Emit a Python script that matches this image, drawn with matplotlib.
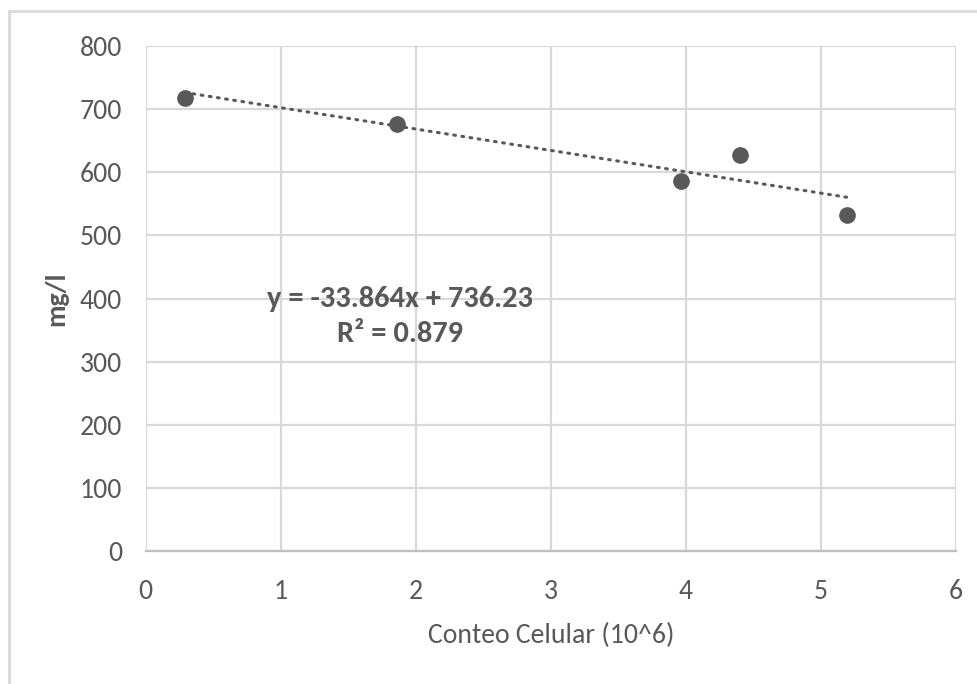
import numpy as np
import matplotlib.pyplot as plt
from matplotlib.patches import Rectangle

# Datos
conteo = [0.29, 1.86, 3.96, 4.40, 5.19]
mg_l = [718, 677, 586, 628, 533]

# Linea de tendencia mostrada en el grafico
pendiente = -33.864
ordenada = 736.23
r2 = 0.879

x_ticks = [0, 1, 2, 3, 4, 5, 6]
y_ticks = [0, 100, 200, 300, 400, 500, 600, 700, 800]

GRIS = "#595959"
REJILLA = "#d9d9d9"

plt.rcParams["font.family"] = ["Carlito", "DejaVu Sans"]

fig = plt.figure(figsize=(9.78, 6.84), dpi=100)
ax = fig.add_axes([0.1489, 0.1944, 0.8287, 0.7383])

# Borde exterior del area del grafico (recortado a la derecha y abajo)
fig.patches.append(Rectangle((9 / 978, -0.1), 1.2, 1 - 11 / 684 + 0.1,
                             transform=fig.transFigure, fill=False,
                             edgecolor=REJILLA, linewidth=2))

xt = np.array([min(conteo), max(conteo)])
ax.plot(xt, pendiente * xt + ordenada, linestyle=(0, (0.6, 2.1)),
        color=GRIS, linewidth=2.2, dash_capstyle="round", zorder=3)
ax.plot(conteo, mg_l, "o", color=GRIS, markersize=11, zorder=4)

ax.set_xlim(0, 6)
ax.set_ylim(0, 800)
ax.set_xticks(x_ticks)
ax.set_yticks(y_ticks)
ax.grid(True, color=REJILLA, linewidth=1.6)
ax.set_axisbelow(True)
for lado in ["top", "right", "left"]:
    ax.spines[lado].set_visible(False)
ax.spines["bottom"].set_color("#bfbfbf")
ax.spines["bottom"].set_linewidth(1.6)
ax.tick_params(length=0, colors=GRIS, labelsize=20)
ax.tick_params(axis="x", pad=20)
ax.tick_params(axis="y", pad=17)

ax.set_xlabel("Conteo Celular (10^6)", fontsize=20, color=GRIS, labelpad=14)
ax.set_ylabel("mg/l", fontsize=20, color=GRIS, fontweight="bold", labelpad=8)

ax.text(1.88, 399, f"y = {pendiente}x + {ordenada}", fontsize=22, color=GRIS,
        fontweight="bold", ha="center", va="center")
ax.text(1.88, 344, f"R² = {r2}", fontsize=22, color=GRIS,
        fontweight="bold", ha="center", va="center")

fig.savefig("out.png", dpi=100)
